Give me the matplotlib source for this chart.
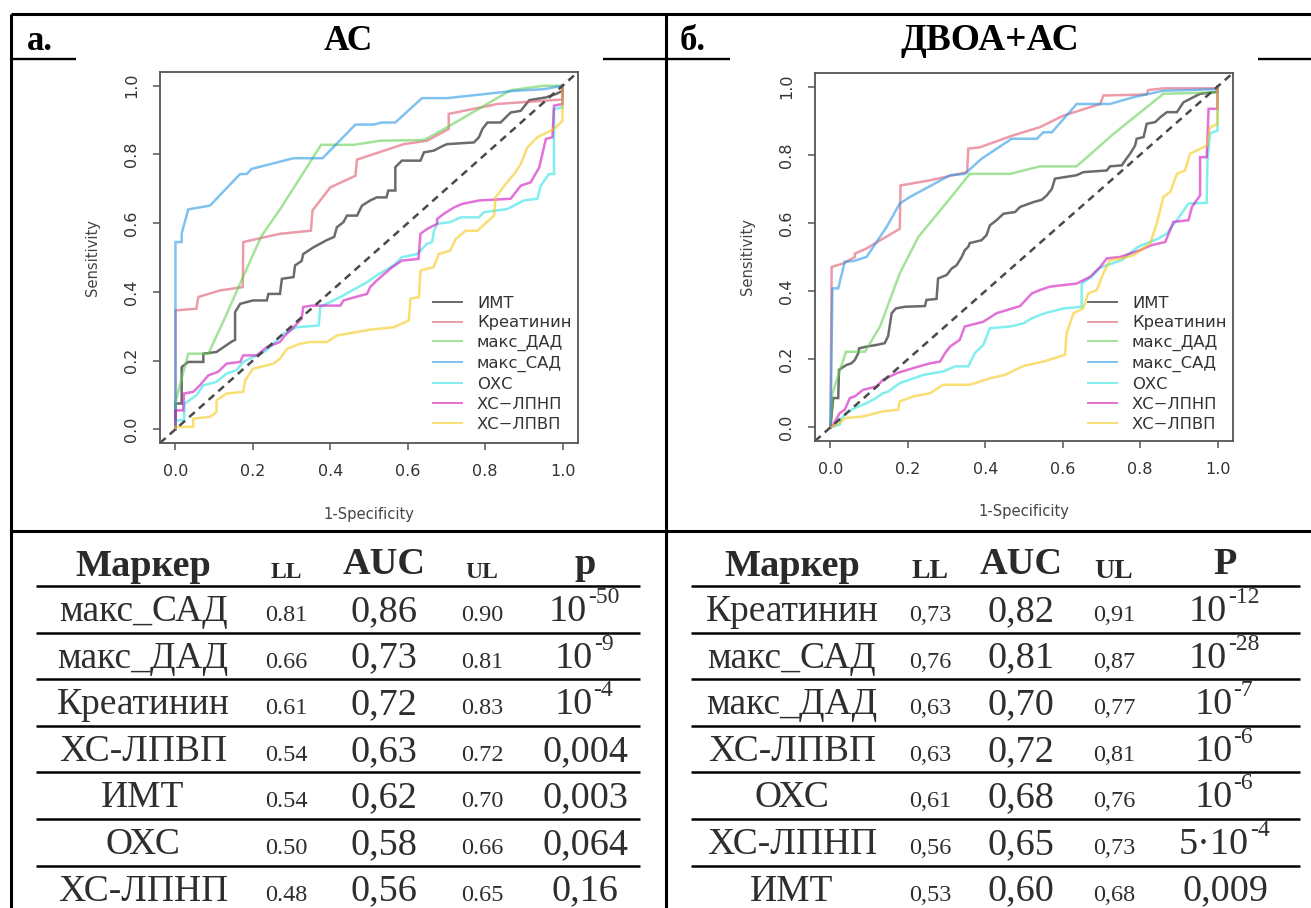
import matplotlib
matplotlib.use('Agg')
import matplotlib.pyplot as plt
from matplotlib.ticker import FormatStrFormatter
from matplotlib.textpath import TextPath
from matplotlib.font_manager import FontProperties

# ROC curves, panel "а" (АС): false positive rate / sensitivity
ac_imt_x = [0, 0, 0.016, 0.016, 0.033, 0.072, 0.072, 0.106, 0.145, 0.154, 0.154, 0.167, 0.2, 0.236, 0.24, 0.27,
            0.275, 0.305, 0.309, 0.326, 0.33, 0.357, 0.39, 0.41, 0.417, 0.434, 0.443, 0.469, 0.482, 0.503, 0.52,
            0.545, 0.55, 0.568, 0.568, 0.585, 0.633, 0.642, 0.667, 0.693, 0.702, 0.771, 0.784, 0.793, 0.806, 0.84,
            0.866, 0.892, 0.914, 0.957, 0.983, 1, 1]
ac_imt_y = [0, 0.075, 0.075, 0.181, 0.196, 0.196, 0.22, 0.225, 0.255, 0.26, 0.341, 0.365, 0.375, 0.375, 0.394,
            0.394, 0.438, 0.443, 0.477, 0.49, 0.51, 0.53, 0.55, 0.56, 0.588, 0.603, 0.622, 0.622, 0.651, 0.666,
            0.675, 0.675, 0.695, 0.695, 0.763, 0.782, 0.782, 0.806, 0.811, 0.826, 0.83, 0.835, 0.85, 0.874, 0.893,
            0.893, 0.922, 0.927, 0.958, 0.966, 0.976, 0.985, 1]
ac_kreat_x = [0, 0, 0.054, 0.059, 0.115, 0.174, 0.175, 0.27, 0.35, 0.354, 0.4, 0.465, 0.469, 0.59, 0.65, 0.706,
              0.706, 0.832, 1, 1]
ac_kreat_y = [0, 0.346, 0.351, 0.385, 0.404, 0.414, 0.545, 0.569, 0.578, 0.637, 0.704, 0.738, 0.785, 0.83, 0.84,
              0.874, 0.918, 0.947, 0.96, 1]
ac_dad_x = [0, 0, 0.033, 0.063, 0.085, 0.13, 0.175, 0.223, 0.27, 0.357, 0.376, 0.46, 0.53, 0.642, 0.702, 0.866,
            0.952, 1]
ac_dad_y = [0, 0.08, 0.22, 0.22, 0.22, 0.33, 0.445, 0.564, 0.64, 0.794, 0.828, 0.828, 0.84, 0.842, 0.879, 0.987,
            1, 1]
ac_sad_x = [0, 0, 0.016, 0.016, 0.033, 0.063, 0.089, 0.167, 0.184, 0.197, 0.305, 0.38, 0.465, 0.512, 0.534, 0.568,
            0.637, 0.702, 0.875, 0.952, 1]
ac_sad_y = [0, 0.545, 0.545, 0.57, 0.64, 0.646, 0.651, 0.743, 0.743, 0.758, 0.789, 0.789, 0.887, 0.887, 0.893,
            0.893, 0.964, 0.964, 0.985, 0.99, 1]
ac_oxc_x = [0, 0, 0.022, 0.024, 0.054, 0.072, 0.106, 0.132, 0.158, 0.175, 0.236, 0.279, 0.313, 0.37, 0.374, 0.426,
            0.456, 0.495, 0.52, 0.564, 0.585, 0.624, 0.633, 0.65, 0.663, 0.668, 0.676, 0.71, 0.737, 0.784, 0.797,
            0.857, 0.9, 0.935, 0.944, 0.965, 0.978, 0.978, 1, 1]
ac_oxc_y = [0, 0.026, 0.026, 0.075, 0.099, 0.128, 0.138, 0.162, 0.172, 0.196, 0.23, 0.278, 0.297, 0.302, 0.356,
            0.385, 0.404, 0.428, 0.448, 0.477, 0.501, 0.51, 0.52, 0.54, 0.545, 0.578, 0.598, 0.603, 0.617, 0.617,
            0.632, 0.641, 0.666, 0.671, 0.709, 0.743, 0.743, 0.932, 0.937, 1]
ac_ldl_x = [0, 0, 0.02, 0.022, 0.046, 0.063, 0.085, 0.11, 0.132, 0.167, 0.175, 0.21, 0.236, 0.27, 0.283, 0.305,
            0.326, 0.33, 0.352, 0.426, 0.434, 0.465, 0.495, 0.503, 0.52, 0.56, 0.585, 0.628, 0.633, 0.65, 0.676,
            0.676, 0.693, 0.72, 0.741, 0.784, 0.866, 0.892, 0.918, 0.94, 0.957, 0.974, 0.978, 1, 1]
ac_ldl_y = [0, 0.055, 0.055, 0.104, 0.109, 0.128, 0.157, 0.167, 0.191, 0.196, 0.215, 0.215, 0.239, 0.254, 0.273,
            0.297, 0.322, 0.356, 0.36, 0.36, 0.375, 0.385, 0.394, 0.414, 0.433, 0.472, 0.491, 0.496, 0.569, 0.583,
            0.598, 0.612, 0.627, 0.646, 0.656, 0.666, 0.671, 0.709, 0.719, 0.763, 0.845, 0.85, 0.942, 0.947, 1]
ac_hdl_x = [0, 0, 0.046, 0.046, 0.089, 0.106, 0.106, 0.132, 0.175, 0.18, 0.2, 0.253, 0.27, 0.288, 0.322, 0.348,
            0.391, 0.417, 0.469, 0.503, 0.564, 0.603, 0.607, 0.629, 0.633, 0.667, 0.68, 0.71, 0.724, 0.75, 0.78,
            0.823, 0.827, 0.853, 0.875, 0.892, 0.909, 0.935, 0.978, 1, 1]
ac_hdl_y = [0, 0.007, 0.007, 0.031, 0.036, 0.05, 0.084, 0.104, 0.109, 0.142, 0.176, 0.191, 0.205, 0.234, 0.249,
            0.254, 0.254, 0.273, 0.283, 0.29, 0.297, 0.317, 0.38, 0.385, 0.462, 0.472, 0.51, 0.52, 0.554, 0.578,
            0.578, 0.622, 0.675, 0.714, 0.743, 0.772, 0.82, 0.85, 0.874, 0.898, 1]

# ROC curves, panel "б" (ДВОА+АС)
dv_imt_x = [0, 0.007, 0.02, 0.022, 0.041, 0.054, 0.063, 0.072, 0.074, 0.093, 0.119, 0.14, 0.149, 0.158, 0.169,
            0.192, 0.244, 0.248, 0.274, 0.278, 0.3, 0.313, 0.326, 0.339, 0.347, 0.356, 0.36, 0.39, 0.403, 0.412,
            0.429, 0.447, 0.477, 0.49, 0.524, 0.546, 0.559, 0.572, 0.58, 0.636, 0.653, 0.714, 0.722, 0.753, 0.761,
            0.774, 0.787, 0.791, 0.809, 0.817, 0.839, 0.852, 0.869, 0.895, 0.912, 0.929, 0.955, 1, 1]
dv_imt_y = [0, 0.086, 0.086, 0.169, 0.183, 0.188, 0.198, 0.218, 0.232, 0.237, 0.242, 0.247, 0.268, 0.335, 0.349,
            0.354, 0.356, 0.374, 0.377, 0.437, 0.447, 0.466, 0.476, 0.5, 0.52, 0.53, 0.541, 0.549, 0.564, 0.593,
            0.608, 0.627, 0.632, 0.647, 0.661, 0.668, 0.681, 0.7, 0.73, 0.74, 0.749, 0.754, 0.766, 0.769, 0.783,
            0.803, 0.827, 0.847, 0.852, 0.891, 0.896, 0.91, 0.925, 0.925, 0.954, 0.964, 0.979, 0.985, 1]
dv_kreat_x = [0, 0.003, 0.033, 0.063, 0.063, 0.093, 0.179, 0.181, 0.257, 0.353, 0.356, 0.386, 0.472, 0.541, 0.602,
              0.697, 0.705, 0.817, 0.821, 0.86, 1, 1]
dv_kreat_y = [0, 0.471, 0.481, 0.5, 0.51, 0.525, 0.583, 0.71, 0.725, 0.749, 0.818, 0.822, 0.857, 0.881, 0.915,
              0.949, 0.974, 0.977, 0.99, 0.995, 0.995, 1]
dv_dad_x = [0, 0.005, 0.04, 0.089, 0.128, 0.179, 0.227, 0.291, 0.36, 0.464, 0.541, 0.636, 0.731, 0.86, 1, 1]
dv_dad_y = [0, 0.1, 0.222, 0.222, 0.296, 0.452, 0.559, 0.647, 0.744, 0.744, 0.766, 0.766, 0.861, 0.979, 0.983, 1]
dv_sad_x = [0, 0.005, 0.02, 0.037, 0.059, 0.093, 0.145, 0.179, 0.205, 0.309, 0.347, 0.39, 0.468, 0.533, 0.55, 0.572,
            0.636, 0.722, 0.783, 0.86, 0.929, 1, 1]
dv_sad_y = [0, 0.408, 0.408, 0.486, 0.488, 0.5, 0.588, 0.657, 0.676, 0.74, 0.744, 0.788, 0.847, 0.847, 0.866, 0.866,
            0.949, 0.949, 0.969, 0.988, 0.99, 0.993, 1]
dv_oxc_x = [0, 0.024, 0.028, 0.041, 0.063, 0.093, 0.11, 0.136, 0.149, 0.179, 0.205, 0.24, 0.291, 0.322, 0.356,
            0.373, 0.395, 0.412, 0.464, 0.498, 0.52, 0.554, 0.602, 0.649, 0.649, 0.675, 0.697, 0.753, 0.778, 0.795,
            0.847, 0.869, 0.895, 0.925, 0.972, 0.974, 0.981, 1, 1]
dv_oxc_y = [0, 0.008, 0.027, 0.042, 0.057, 0.071, 0.081, 0.1, 0.105, 0.13, 0.14, 0.154, 0.164, 0.179, 0.179, 0.218,
            0.242, 0.291, 0.296, 0.305, 0.32, 0.335, 0.349, 0.354, 0.422, 0.442, 0.469, 0.491, 0.515, 0.53, 0.554,
            0.569, 0.608, 0.657, 0.659, 0.783, 0.863, 0.871, 1]
dv_ldl_x = [0, 0.007, 0.024, 0.037, 0.05, 0.063, 0.084, 0.119, 0.136, 0.171, 0.214, 0.257, 0.283, 0.296, 0.309,
            0.334, 0.347, 0.395, 0.429, 0.455, 0.49, 0.52, 0.541, 0.567, 0.636, 0.671, 0.697, 0.714, 0.748, 0.8,
            0.83, 0.865, 0.886, 0.925, 0.934, 0.955, 0.955, 0.972, 0.977, 1, 1]
dv_ldl_y = [0, 0.008, 0.042, 0.052, 0.086, 0.091, 0.11, 0.12, 0.14, 0.159, 0.174, 0.188, 0.193, 0.218, 0.237,
            0.257, 0.296, 0.31, 0.335, 0.344, 0.356, 0.393, 0.403, 0.413, 0.422, 0.442, 0.471, 0.496, 0.5, 0.52,
            0.535, 0.544, 0.603, 0.608, 0.647, 0.681, 0.793, 0.793, 0.935, 0.935, 1]
dv_hdl_x = [0, 0.024, 0.037, 0.084, 0.136, 0.175, 0.179, 0.214, 0.257, 0.291, 0.36, 0.412, 0.451, 0.498, 0.55,
            0.606, 0.61, 0.628, 0.653, 0.666, 0.688, 0.705, 0.722, 0.753, 0.783, 0.826, 0.843, 0.86, 0.878, 0.895,
            0.916, 0.929, 0.972, 0.981, 1, 1]
dv_hdl_y = [0, 0.013, 0.027, 0.032, 0.047, 0.052, 0.076, 0.091, 0.1, 0.125, 0.125, 0.144, 0.154, 0.18, 0.193,
            0.213, 0.276, 0.335, 0.349, 0.393, 0.403, 0.452, 0.491, 0.496, 0.505, 0.54, 0.598, 0.676, 0.691, 0.744,
            0.754, 0.803, 0.827, 0.881, 0.89, 1]

legend_labels = ['ИМТ', 'Креатинин', 'макс_ДАД', 'макс_САД', 'ОХС', 'ХС\u2212ЛПНП', 'ХС\u2212ЛПВП']

# AUC tables
ac_names = ['макс_САД', 'макс_ДАД', 'Креатинин', 'ХС-ЛПВП', 'ИМТ', 'ОХС', 'ХС-ЛПНП']
ac_ll = [0.81, 0.66, 0.61, 0.54, 0.54, 0.50, 0.48]
ac_auc = [0.86, 0.73, 0.72, 0.63, 0.62, 0.58, 0.56]
ac_ul = [0.90, 0.81, 0.83, 0.72, 0.70, 0.66, 0.65]
ac_p = ['10^-50', '10^-9', '10^-4', '0,004', '0,003', '0,064', '0,16']

dv_names = ['Креатинин', 'макс_САД', 'макс_ДАД', 'ХС-ЛПВП', 'ОХС', 'ХС-ЛПНП', 'ИМТ']
dv_ll = [0.73, 0.76, 0.63, 0.63, 0.61, 0.56, 0.53]
dv_auc = [0.82, 0.81, 0.70, 0.72, 0.68, 0.65, 0.60]
dv_ul = [0.91, 0.87, 0.77, 0.81, 0.76, 0.73, 0.68]
dv_p = ['10^-12', '10^-28', '10^-7', '10^-6', '10^-6', '5·10^-4', '0,009']

W, H, DPI = 1311, 908, 100
SERIF = 'Liberation Serif'
line_colors = ['#000000', '#DF536B', '#61D04F', '#2297E6', '#28E2E5', '#CD0BBC', '#F5C710']

fig = plt.figure(figsize=(W / DPI, H / DPI), dpi=DPI)

# full-figure pixel frame for the table grid and text
frame = fig.add_axes([0, 0, 1, 1])
frame.set_xlim(0, W)
frame.set_ylim(H, 0)
frame.axis('off')


def px_axes(left, top, right, bottom):
    return fig.add_axes([left / W, 1 - bottom / H, (right - left) / W, (bottom - top) / H])


def roc_panel(ax, curves, leg_top):
    for (fx, fy), col, lab in zip(curves, line_colors, legend_labels):
        ax.plot(fx, fy, color=col, alpha=0.58, lw=1.8, label=lab, solid_joinstyle='miter')
    ax.axline((0, 0), (1, 1), color='#4a4a4a', lw=1.8, ls=(0, (3, 2.2)))
    ax.set_xlim(-0.04, 1.04)
    ax.set_ylim(-0.04, 1.04)
    ticks = [0, 0.2, 0.4, 0.6, 0.8, 1.0]
    ax.set_xticks(ticks)
    ax.set_yticks(ticks)
    ax.xaxis.set_major_formatter(FormatStrFormatter('%.1f'))
    ax.yaxis.set_major_formatter(FormatStrFormatter('%.1f'))
    ax.tick_params(direction='out', length=5, width=1.1, color='#555555', pad=10,
                   labelsize=11.5, labelcolor='#333333')
    ax.tick_params(axis='y', labelrotation=90)
    for lab in ax.get_yticklabels():
        lab.set_va('center')
    for sp in ax.spines.values():
        sp.set_color('#555555')
        sp.set_linewidth(1.3)
    ax.set_xlabel('1-Specificity', fontsize=10.6, color='#444444')
    ax.set_ylabel('Sensitivity', fontsize=10.6, color='#444444')
    ax.xaxis.set_label_coords(0.5, -0.172)
    ax.yaxis.set_label_coords(-0.143, 0.5)
    leg = ax.legend(loc='upper left', bbox_to_anchor=(0.653, leg_top), frameon=False, fontsize=11.8,
                    borderpad=0, borderaxespad=0, handlelength=1.77, handletextpad=0.91,
                    labelspacing=0.29)
    for t in leg.get_texts():
        t.set_color('#333333')
    for hl in leg.get_lines():
        hl.set_linewidth(1.4)


ax_a = px_axes(160, 72, 578, 443)
roc_panel(ax_a, [(ac_imt_x, ac_imt_y), (ac_kreat_x, ac_kreat_y), (ac_dad_x, ac_dad_y), (ac_sad_x, ac_sad_y),
                 (ac_oxc_x, ac_oxc_y), (ac_ldl_x, ac_ldl_y), (ac_hdl_x, ac_hdl_y)], 0.397)
ax_b = px_axes(815, 73, 1233, 441)
roc_panel(ax_b, [(dv_imt_x, dv_imt_y), (dv_kreat_x, dv_kreat_y), (dv_dad_x, dv_dad_y), (dv_sad_x, dv_sad_y),
                 (dv_oxc_x, dv_oxc_y), (dv_ldl_x, dv_ldl_y), (dv_hdl_x, dv_hdl_y)], 0.395)

# outer grid of the figure
grid = dict(color='black', solid_capstyle='butt')
frame.plot([11, W], [14, 14], lw=2.2, **grid)
frame.plot([11, 11], [14, H], lw=2.2, **grid)
frame.plot([666, 666], [14, H], lw=2.2, **grid)
frame.plot([11, W], [531, 531], lw=2.2, **grid)
for x0, x1 in [(11, 76), (603, 730), (1258, W)]:
    frame.plot([x0, x1], [59, 59], lw=1.7, **grid)

head = dict(family=SERIF, weight='bold', color='black', va='baseline')
frame.text(27, 50, 'а.', ha='left', fontsize=25, **head)
frame.text(348, 50, 'АС', ha='center', fontsize=25.5, **head)
frame.text(680, 50, 'б.', ha='left', fontsize=25, **head)
frame.text(990, 50, 'ДВОА+АС', ha='center', fontsize=27, **head)

serif_prop = FontProperties(family=SERIF)
INK = '#2e2e2e'


def text_px(s, size):
    return TextPath((0, 0), s, size=size, prop=serif_prop).get_extents().width * DPI / 72


def put_value(x, y, s, size):
    # "10^-50" style values: base plus raised exponent, centred as a group
    if '^' not in s:
        frame.text(x, y, s, ha='center', va='baseline', family=SERIF, fontsize=size, color=INK)
        return
    base, exp = s.split('^')
    esize = size * 0.62
    wb, we = text_px(base, size), text_px(exp, esize)
    split = x + (wb - we) / 2
    frame.text(split, y, base, ha='right', va='baseline', family=SERIF, fontsize=size, color=INK)
    frame.text(split + 1, y - size * 0.47 * DPI / 72, exp, ha='left', va='baseline', family=SERIF,
               fontsize=esize, color=INK)


def draw_table(cols, names, ll, auc, ul, pvals, p_head, sep, lim_size, x0, x1):
    cx_name, cx_ll, cx_auc, cx_ul, cx_p = cols
    hb = dict(family=SERIF, weight='bold', color='#2a2a2a', va='baseline', ha='center')
    frame.text(cx_name, 576, 'Маркер', fontsize=27.5, **hb)
    frame.text(cx_ll, 578, 'LL', fontsize=lim_size, **hb)
    frame.text(cx_auc, 574, 'AUC', fontsize=27.5, **hb)
    frame.text(cx_ul, 578, 'UL', fontsize=lim_size, **hb)
    frame.text(cx_p, 574, p_head, fontsize=27.5, **hb)
    step = 46.6
    for i in range(len(names)):
        top = 586 + i * step
        frame.plot([x0, x1], [top, top], color='black', lw=1.8, solid_capstyle='butt')
        base = top + 35
        cell = dict(family=SERIF, color=INK, va='baseline', ha='center')
        frame.text(cx_name, base, names[i], fontsize=27, **cell)
        frame.text(cx_ll, base, f'{ll[i]:.2f}'.replace('.', sep), fontsize=17.5, **cell)
        frame.text(cx_auc, base, f'{auc[i]:.2f}'.replace('.', ','), fontsize=27.5, **cell)
        frame.text(cx_ul, base, f'{ul[i]:.2f}'.replace('.', sep), fontsize=17.5, **cell)
        put_value(cx_p, base, pvals[i], 27.5)


draw_table((143, 286, 384, 482, 585), ac_names, ac_ll, ac_auc, ac_ul, ac_p, 'p', '.', 17, 36, 640)
draw_table((792, 930, 1021, 1114, 1225), dv_names, dv_ll, dv_auc, dv_ul, dv_p, 'P', ',', 20, 691, 1300)

fig.savefig('out.png', dpi=DPI)
